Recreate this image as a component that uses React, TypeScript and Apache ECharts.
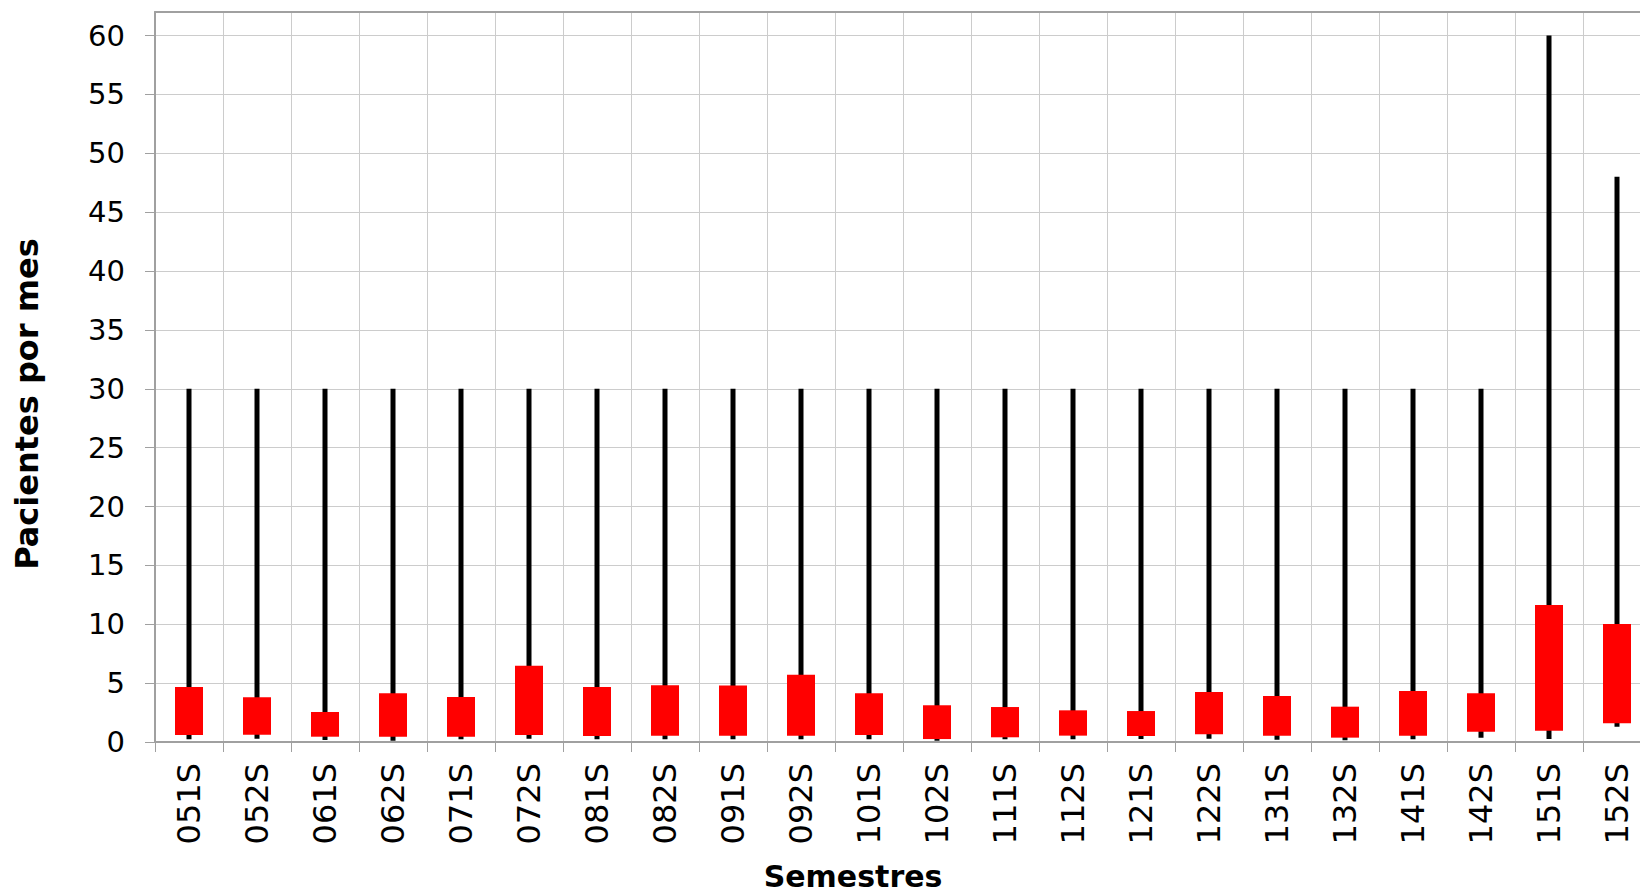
import React, { useEffect, useRef } from "react";
import * as echarts from "echarts";

const categories = [
  "051S", "052S", "061S", "062S", "071S", "072S", "081S", "082S", "091S", "092S", "101S",
  "102S", "111S", "112S", "121S", "122S", "131S", "132S", "141S", "142S", "151S", "152S",
];
const lows = [0.23, 0.28, 0.17, 0.11, 0.23, 0.28, 0.23, 0.23, 0.23, 0.23, 0.23, 0.11, 0.23, 0.23, 0.25, 0.28, 0.2, 0.14, 0.23, 0.37, 0.25, 1.3];
const highs = [30, 30, 30, 30, 30, 30, 30, 30, 30, 30, 30, 30, 30, 30, 30, 30, 30, 30, 30, 30, 60, 48];
const boxLows = [0.59, 0.62, 0.45, 0.45, 0.45, 0.59, 0.51, 0.54, 0.54, 0.54, 0.59, 0.25, 0.4, 0.54, 0.51, 0.65, 0.54, 0.37, 0.54, 0.88, 0.96, 1.59];
const boxHighs = [4.67, 3.8, 2.55, 4.14, 3.82, 6.48, 4.67, 4.82, 4.79, 5.72, 4.14, 3.12, 2.97, 2.69, 2.63, 4.25, 3.91, 3.0, 4.33, 4.14, 11.64, 10.03];
const yTicks = [0, 5, 10, 15, 20, 25, 30, 35, 40, 45, 50, 55, 60];

const FONT = "DejaVu Sans";

export default function App() {
  const ref = useRef<HTMLDivElement>(null);
  useEffect(() => {
    document.body.style.margin = "0";
    document.body.style.overflow = "hidden";
    const chart = echarts.init(ref.current!, null, { renderer: "svg" });
    const data = categories.map((_, i) => [i, lows[i], highs[i], boxLows[i], boxHighs[i]]);
    chart.setOption({
      animation: false,
      backgroundColor: "#ffffff",
      grid: { left: 155, top: 12, right: 1, bottom: 151 },
      xAxis: [
        {
          type: "category",
          data: categories,
          position: "bottom",
          axisLine: { show: true, lineStyle: { color: "#a0a0a0", width: 2 } },
          axisTick: { show: true, length: 10, lineStyle: { color: "#a0a0a0", width: 1 } },
          splitLine: { show: true, lineStyle: { color: "#cccccc", width: 1 } },
          axisLabel: { rotate: 90, margin: 21, fontSize: 32, color: "#000", fontFamily: FONT, interval: 0 },
        },
        {
          type: "category",
          data: categories,
          position: "top",
          axisLine: { show: true, lineStyle: { color: "#a0a0a0", width: 2 } },
          axisTick: { show: false },
          axisLabel: { show: false },
          splitLine: { show: false },
        },
      ],
      yAxis: {
        type: "value",
        min: 0,
        max: 62,
        interval: 5,
        axisLine: { show: true, lineStyle: { color: "#a0a0a0", width: 2 } },
        axisTick: { show: true, length: 10, customValues: yTicks, lineStyle: { color: "#a0a0a0", width: 1 } },
        splitLine: { show: true, lineStyle: { color: "#cccccc", width: 1 } },
        axisLabel: { customValues: yTicks, margin: 30, fontSize: 29, color: "#000", fontFamily: FONT },
      },
      graphic: [
        {
          type: "text",
          x: 27,
          y: 404,
          rotation: Math.PI / 2,
          style: {
            text: "Pacientes por mes",
            fontSize: 32,
            fontWeight: "bold",
            fontFamily: FONT,
            fill: "#000",
            textAlign: "center",
            textVerticalAlign: "middle",
          },
        },
        {
          type: "text",
          x: 853,
          y: 876,
          style: {
            text: "Semestres",
            fontSize: 30,
            fontWeight: "bold",
            fontFamily: FONT,
            fill: "#000",
            textAlign: "center",
            textVerticalAlign: "middle",
          },
        },
      ],
      series: [
        {
          type: "custom",
          xAxisIndex: 0,
          data,
          encode: { x: 0, y: [1, 2, 3, 4] },
          renderItem: (params: any, api: any) => {
            const x = api.value(0);
            const pLow = api.coord([x, api.value(1)]);
            const pHigh = api.coord([x, api.value(2)]);
            const pB0 = api.coord([x, api.value(3)]);
            const pB1 = api.coord([x, api.value(4)]);
            const wick = 5;
            const boxW = 28;
            return {
              type: "group",
              children: [
                {
                  type: "rect",
                  shape: { x: pLow[0] - wick / 2, y: pHigh[1], width: wick, height: pLow[1] - pHigh[1] },
                  style: { fill: "#000000" },
                },
                {
                  type: "rect",
                  shape: { x: pB0[0] - boxW / 2, y: pB1[1], width: boxW, height: pB0[1] - pB1[1] },
                  style: { fill: "#ff0000" },
                },
              ],
            };
          },
        },
      ],
    });
    return () => chart.dispose();
  }, []);
  return <div ref={ref} style={{ position: "fixed", left: 0, top: 0, width: 1652, height: 893 }} />;
}
